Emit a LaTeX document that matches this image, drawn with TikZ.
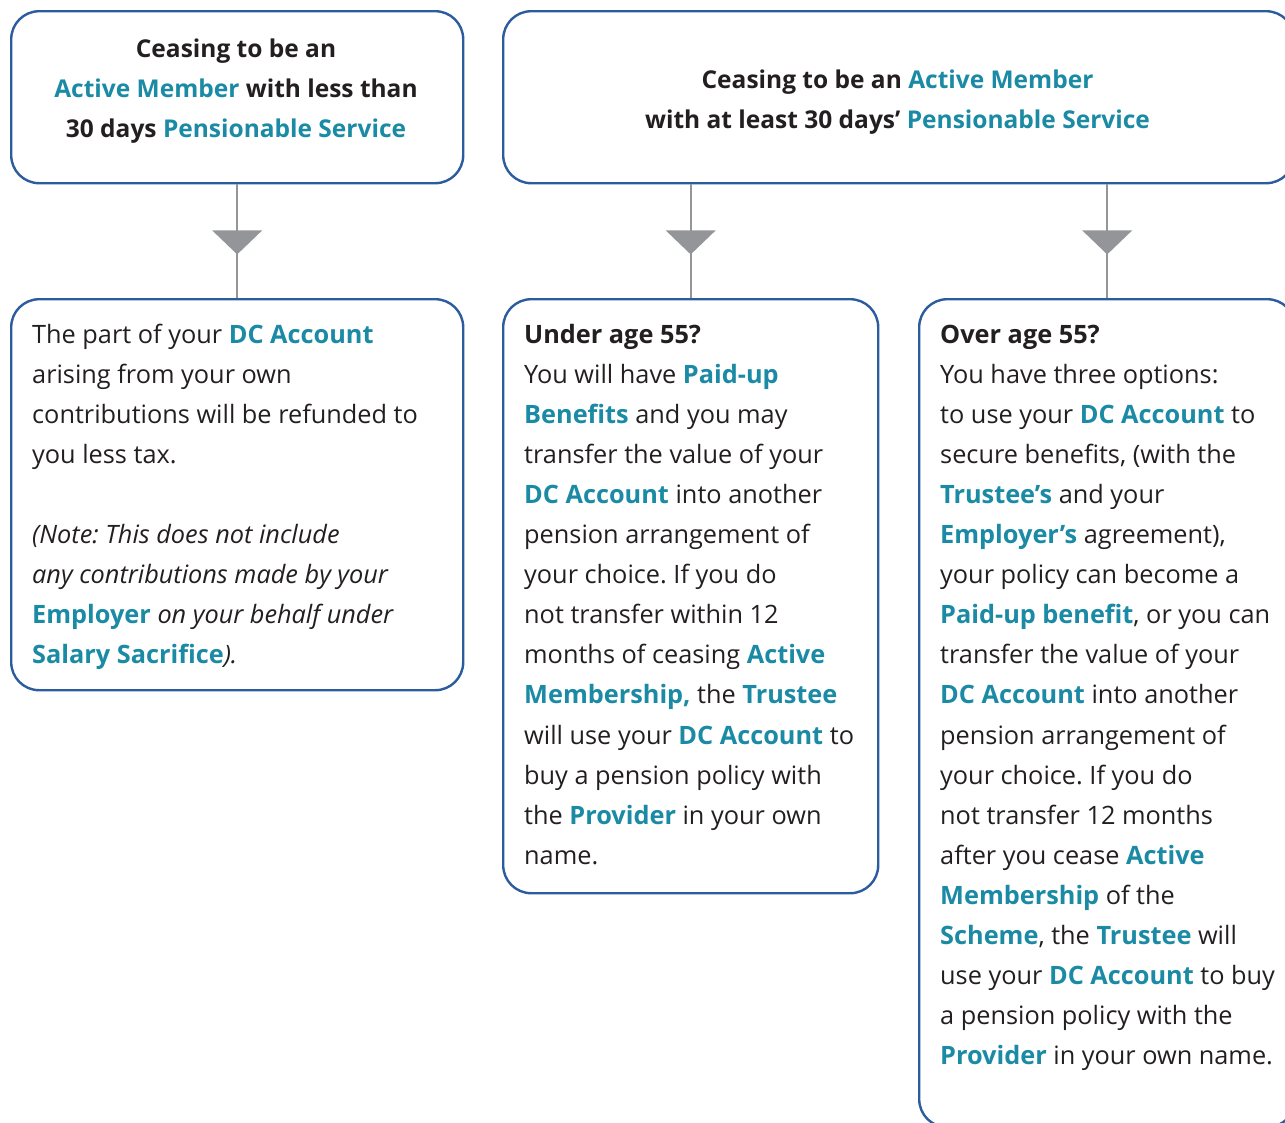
\documentclass[tikz,border=0pt]{standalone}
\usepackage{fontspec}
\setmainfont{Open Sans}
\usetikzlibrary{arrows.meta,decorations.markings}
\definecolor{tealhl}{HTML}{1B8AA5}
\definecolor{boxblue}{HTML}{2B5C9E}
\definecolor{txt}{HTML}{231F20}
\definecolor{arrgrey}{HTML}{939598}
\newcommand{\hl}[1]{\textbf{\color{tealhl}#1}}
\newcommand{\bodysize}{\fontsize{25.3}{40.1}\selectfont}
\tikzset{
  box/.style={draw=boxblue, line width=2.4pt, rounded corners=28pt, fill=white, inner sep=0pt, anchor=north west},
  txtnode/.style={inner sep=0pt, anchor=base west, text=txt, font=\bodysize},
  ctrnode/.style={inner sep=0pt, anchor=base, text=txt, font=\fontsize{24.5}{40}\selectfont\bfseries, align=center},
  conn/.style={draw=arrgrey, line width=2.4pt, postaction={decorate},
    decoration={markings, mark=at position 70pt with {\fill[arrgrey] (0,0) -- (-24pt,25pt) -- (-24pt,-25pt) -- cycle;}}}
}
\begin{document}
\frenchspacing
\begin{tikzpicture}[x=1pt,y=-1pt]
\useasboundingbox (0,0) rectangle (1285,1122);
\clip (0,0) rectangle (1285,1122);
% boxes
\node[box, minimum width=452pt, minimum height=172pt] (A) at (10,10) {};
\node[box, minimum width=791pt, minimum height=172pt] (B) at (502,10) {};
\node[box, minimum width=452pt, minimum height=391pt] (C) at (10,298) {};
\node[box, minimum width=375pt, minimum height=594pt] (D) at (502,298) {};
\node[box, minimum width=376pt, minimum height=828pt] (E) at (918,298) {};
% connectors
\draw[conn] (A.south) -- (C.north);
\draw[conn] (B.south -| D.north) -- (D.north);
\draw[conn] (B.south -| E.north) -- (E.north);
% texts (anchor = baseline of last line)
\node[ctrnode] (tA) at (236,137) {Ceasing to be an\\\hl{Active Member} with less than\\30 days \hl{Pensionable Service}};
\node[ctrnode] (tB) at (897.5,128) {Ceasing to be an \hl{Active Member}\\with at least 30 days’ \hl{Pensionable Service}};
\node[txtnode] (tC) at (32,343) {\parbox[t]{430pt}{\bodysize\frenchspacing\raggedright
The part of your \hl{DC Account}\\
arising from your own\\
contributions will be refunded to\\
you less tax.\\[40.1pt]
\textit{(Note: This does not include}\\
\textit{any contributions made by your}\\
\hl{Employer} \textit{on your behalf under}\\
\hl{Salary Sacrifice}\textit{).}}};
\node[txtnode] (tD) at (524,343) {\parbox[t]{360pt}{\bodysize\frenchspacing\raggedright
\textbf{Under age 55?}\\
You will have \hl{Paid-up}\\
\hl{Benefits} and you may\\
transfer the value of your\\
\hl{DC Account} into another\\
pension arrangement of\\
your choice. If you do\\
not transfer within 12\\
months of ceasing \hl{Active}\\
\hl{Membership,} the \hl{Trustee}\\
will use your \hl{DC Account} to\\
buy a pension policy with\\
the \hl{Provider} in your own\\
name.}};
\node[txtnode] (tE) at (940,343) {\parbox[t]{360pt}{\bodysize\frenchspacing\raggedright
\textbf{Over age 55?}\\
You have three options:\\
to use your \hl{DC Account} to\\
secure benefits, (with the\\
\hl{Trustee’s} and your\\
\hl{Employer’s} agreement),\\
your policy can become a\\
\hl{Paid-up benefit}, or you can\\
transfer the value of your\\
\hl{DC Account} into another\\
pension arrangement of\\
your choice. If you do\\
not transfer 12 months\\
after you cease \hl{Active}\\
\hl{Membership} of the\\
\hl{Scheme}, the \hl{Trustee} will\\
use your \hl{DC Account} to buy\\
a pension policy with the\\
\hl{Provider} in your own name.}};
\end{tikzpicture}
\end{document}
